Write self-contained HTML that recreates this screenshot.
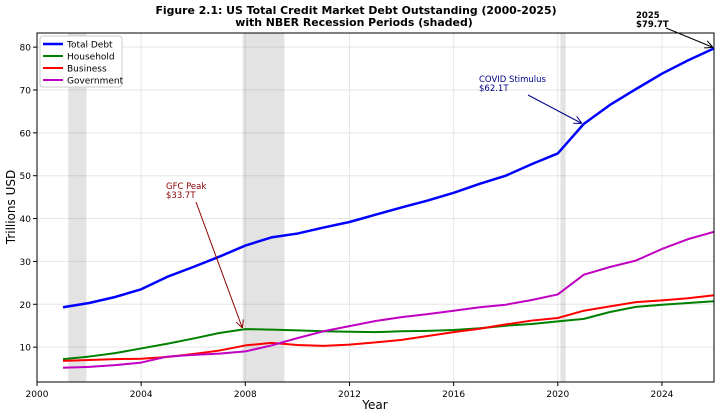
<!DOCTYPE html>
<html><head><meta charset="utf-8"><style>
body{margin:0;background:#fff;font-family:"DejaVu Sans",sans-serif}
svg text{font-family:"DejaVu Sans",sans-serif}
</style></head><body>
<svg id="chart" width="720" height="416" xmlns="http://www.w3.org/2000/svg">
<defs>
<marker id="ak" markerWidth="8" markerHeight="8" refX="7" refY="4" orient="auto"><path d="M0,0L8,4L0,8" fill="none" stroke="#000"/></marker>
<marker id="ab" markerWidth="8" markerHeight="8" refX="7" refY="4" orient="auto"><path d="M0,0L8,4L0,8" fill="none" stroke="#00008b"/></marker>
<marker id="ar" markerWidth="8" markerHeight="8" refX="7" refY="4" orient="auto"><path d="M0,0L8,4L0,8" fill="none" stroke="#8b0000"/></marker>
</defs>
<text x="356" y="14" text-anchor="middle" font-size="10.9" font-weight="bold">Figure 2.1: US Total Credit Market Debt Outstanding (2000-2025)</text>
<text x="354" y="26" text-anchor="middle" font-size="10.9" font-weight="bold">with NBER Recession Periods (shaded)</text>
<g id="grid"></g><g id="rec"></g><g id="lines"></g><g id="axes"></g>
<rect x="37" y="33" width="677" height="349" fill="none" stroke="#000" stroke-width="1"/>
<text x="375" y="409" text-anchor="middle" font-size="12">Year</text>
<text transform="translate(15,207) rotate(-90)" text-anchor="middle" font-size="12">Trillions USD</text>
<g>
<rect x="40" y="36" width="82" height="51" fill="#fff" stroke="#ccc" rx="3"/>
<line x1="43" y1="44" x2="63" y2="44" stroke="#0000ff" stroke-width="2.5"/><text x="67" y="47.5" font-size="9">Total Debt</text>
<line x1="43" y1="56" x2="63" y2="56" stroke="#008000" stroke-width="2"/><text x="67" y="59.5" font-size="9">Household</text>
<line x1="43" y1="68" x2="63" y2="68" stroke="#ff0000" stroke-width="2"/><text x="67" y="71.5" font-size="9">Business</text>
<line x1="43" y1="80" x2="63" y2="80" stroke="#c000c0" stroke-width="2"/><text x="67" y="83.5" font-size="9">Government</text>
</g>
<g>
<text x="166" y="189" font-size="8.5" fill="#8b0000">GFC Peak</text><text x="166" y="198" font-size="8.5" fill="#8b0000">$33.7T</text>
<line x1="196" y1="202" x2="242" y2="327" stroke="#8b0000" marker-end="url(#ar)"/>
<text x="479" y="82" font-size="8.5" fill="#00008b">COVID Stimulus</text><text x="479" y="91" font-size="8.5" fill="#00008b">$62.1T</text>
<line x1="528" y1="95" x2="581" y2="123" stroke="#00008b" marker-end="url(#ab)"/>
<text x="636" y="18" font-size="8.5" font-weight="bold">2025</text><text x="636" y="27" font-size="8.5" font-weight="bold">$79.7T</text>
<line x1="666" y1="28" x2="712" y2="47" stroke="#000" marker-end="url(#ak)"/>
</g>
</svg>
<script>
const years=[2001,2002,2003,2004,2005,2006,2007,2008,2009,2010,2011,2012,2013,2014,2015,2016,2017,2018,2019,2020,2021,2022,2023,2024,2025,2026];
const totalDebt=[19.3,20.3,21.7,23.5,26.4,28.7,31.1,33.7,35.6,36.5,37.9,39.2,40.9,42.6,44.2,46.0,48.1,50.0,52.7,55.2,62.1,66.5,70.2,73.8,76.9,79.7];
const household=[7.2,7.8,8.6,9.7,10.8,12.0,13.3,14.2,14.1,13.9,13.7,13.6,13.5,13.7,13.8,14.0,14.4,15.0,15.4,16.0,16.6,18.2,19.4,19.9,20.3,20.7];
const business=[6.8,7.0,7.2,7.3,7.7,8.4,9.2,10.4,11.0,10.5,10.3,10.6,11.1,11.7,12.6,13.5,14.3,15.3,16.2,16.8,18.5,19.5,20.5,20.9,21.4,22.1];
const government=[5.2,5.4,5.8,6.4,7.8,8.2,8.5,9.0,10.4,12.1,13.7,14.9,16.1,17.0,17.7,18.5,19.3,19.9,21.0,22.3,26.9,28.7,30.2,32.9,35.2,36.9];
const recessionStart=[2001.2,2007.9,2020.1];
const recessionEnd=[2001.9,2009.5,2020.3];
const xTicks=[2000,2004,2008,2012,2016,2020,2024];
const yTicks=[10,20,30,40,50,60,70,80];
const NS="http://www.w3.org/2000/svg";
const X=v=>37+(v-2000)*26.04;
const Y=v=>390-v*4.286;
function mk(t,a,p){const e=document.createElementNS(NS,t);for(const k in a)e.setAttribute(k,a[k]);document.getElementById(p).appendChild(e);return e;}
xTicks.forEach(t=>{
 const g=mk('line',{x1:X(t),x2:X(t),y1:33,y2:382,stroke:'#e6e6e6'},'grid');
 
 
 const tk=mk('line',{x1:X(t),x2:X(t),y1:382,y2:386,stroke:'#000'},'axes');
 
 
 const l=mk('text',{x:X(t),y:397,'text-anchor':'middle','font-size':9},'axes');l.textContent=t;
 
 
});
yTicks.forEach(t=>{
 const g=mk('line',{x1:37,x2:714,y1:Y(t),y2:Y(t),stroke:'#e6e6e6'},'grid');
 
 
 const tk=mk('line',{x1:33,x2:37,y1:Y(t),y2:Y(t),stroke:'#000'},'axes');
 
 
 const l=mk('text',{x:31,y:Y(t)+3.5,'text-anchor':'end','font-size':9},'axes');l.textContent=t;
 
 
});
recessionStart.forEach((s,i)=>{
 const r=mk('rect',{x:X(s),y:33,width:X(recessionEnd[i])-X(s),height:349,fill:'#808080','fill-opacity':0.22},'rec');
 
 
});
[[totalDebt,'#0000ff',2.5,'total-debt-line'],[household,'#008000',2,'household-line'],[business,'#ff0000',2,'business-line'],[government,'#c000c0',2,'government-line']].forEach(([d,c,w,n])=>{
 const p=mk('polyline',{points:d.map((v,i)=>X(years[i])+','+Y(v)).join(' '),fill:'none',stroke:c,'stroke-width':w,'stroke-linejoin':'round'},'lines');
 
 
});
</script>
</body></html>
